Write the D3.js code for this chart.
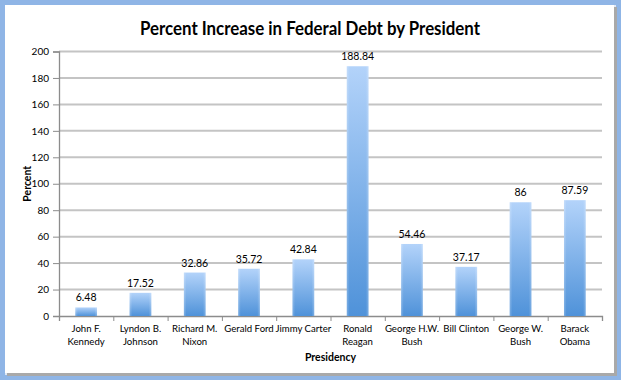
<!DOCTYPE html>
<html><head><meta charset="utf-8">
<script src="https://cdn.jsdelivr.net/npm/d3@7"></script>
<style>
html,body{margin:0;padding:0;background:#ffffff;}
svg{display:block;font-family:Lato,"Open Sans",sans-serif;}
</style></head>
<body>
<script>
const presidents = [["John F.","Kennedy"],["Lyndon B.","Johnson"],["Richard M.","Nixon"],["Gerald Ford"],["Jimmy Carter"],["Ronald","Reagan"],["George H.W.","Bush"],["Bill Clinton"],["George W.","Bush"],["Barack","Obama"]];
const percentIncrease = [6.48,17.52,32.86,35.72,42.84,188.84,54.46,37.17,86,87.59];
const yTicks = [0,20,40,60,80,100,120,140,160,180,200];
const titleText = "Percent Increase in Federal Debt by President";
const xTitle = "Presidency";
const yTitle = "Percent";

(function(){
const W=621,H=380;
const svg=d3.select("body").append("svg").attr("width",W).attr("height",H);
const defs=svg.append("defs");
const grad=defs.append("linearGradient").attr("id","barGrad").attr("x1",0).attr("y1",0).attr("x2",0).attr("y2",1);
grad.append("stop").attr("offset","0%").attr("stop-color","#b3d3fa");
grad.append("stop").attr("offset","100%").attr("stop-color","#4f92d9");
const hgrad=defs.append("linearGradient").attr("id","edgeGrad").attr("x1",0).attr("y1",0).attr("x2",1).attr("y2",0);
hgrad.append("stop").attr("offset","0%").attr("stop-color","#fff").attr("stop-opacity",0.25);
hgrad.append("stop").attr("offset","12%").attr("stop-color","#fff").attr("stop-opacity",0);
hgrad.append("stop").attr("offset","88%").attr("stop-color","#fff").attr("stop-opacity",0);
hgrad.append("stop").attr("offset","100%").attr("stop-color","#fff").attr("stop-opacity",0.25);

// frame (spreadsheet selection look)
svg.append("rect").attr("x",0).attr("y",0).attr("width",W).attr("height",H).attr("fill","#dfe8f5");
svg.append("rect").attr("x",0).attr("y",0).attr("width",W).attr("height",H).attr("fill","none").attr("stroke","#8fb5e6").attr("stroke-width",10);
svg.append("rect").attr("x",7).attr("y",7).attr("width",610).attr("height",369).attr("fill","#a9a9a9");
svg.append("rect").attr("x",5).attr("y",5).attr("width",609).attr("height",368).attr("fill","#ffffff");

const pl=59,pr=602,pt=51.5,pb=316;
const y=d3.scaleLinear().domain([0,200]).range([pb,pt]);

// gridlines
svg.append("g").selectAll("line").data(yTicks.filter(d=>d>0)).join("line")
 .attr("x1",pl).attr("x2",pr).attr("y1",d=>y(d)).attr("y2",d=>y(d))
 .attr("stroke","#c4c4c4").attr("stroke-width",2);

// y axis
const ya=svg.append("g").attr("transform",`translate(${pl},0)`)
 .call(d3.axisLeft(y).tickValues(yTicks).tickSize(6).tickPadding(4).tickFormat(d3.format("d")));
ya.select(".domain").attr("stroke","#8c8c8c").attr("stroke-width",1.3);
ya.selectAll(".tick line").attr("stroke","#8c8c8c");
ya.selectAll("text").attr("font-size",10).attr("fill","#000").attr("font-family","Lato,'Open Sans',sans-serif");

// x axis line and boundary ticks
const xs=d3.scaleLinear().domain([0,presidents.length]).range([pl,pr]);
const xa=svg.append("g").attr("transform",`translate(0,${pb})`)
 .call(d3.axisBottom(xs).tickValues(d3.range(presidents.length+1)).tickSize(5).tickFormat(""));
xa.select(".domain").attr("stroke","#8c8c8c").attr("stroke-width",1.3);
xa.selectAll(".tick line").attr("stroke","#8c8c8c");

const cx=i=>xs(i+0.5);
const bw=(pr-pl)/presidents.length/2.5;

// bars
const bars=svg.append("g").selectAll("g").data(percentIncrease).join("g");
bars.append("rect").attr("x",(d,i)=>cx(i)-bw/2).attr("width",bw)
 .attr("y",d=>y(d)).attr("height",d=>pb-y(d)).attr("fill","url(#barGrad)");
bars.append("rect").attr("x",(d,i)=>cx(i)-bw/2).attr("width",bw)
 .attr("y",d=>y(d)).attr("height",d=>pb-y(d)).attr("fill","url(#edgeGrad)");

// data labels
svg.append("g").selectAll("text").data(percentIncrease).join("text")
 .attr("x",(d,i)=>cx(i)).attr("y",d=>y(d)-6).attr("text-anchor","middle")
 .attr("font-size",10.5).attr("fill","#000").text(d=>d);

// category labels
const cl=svg.append("g").selectAll("text").data(presidents).join("text")
 .attr("x",(d,i)=>cx(i)).attr("y",332).attr("text-anchor","middle").attr("font-size",9.6).attr("fill","#000");
cl.selectAll("tspan").data(d=>d).join("tspan").attr("x",function(){return this.parentNode.getAttribute("x");})
 .attr("dy",(d,i)=>i?12.5:0).text(d=>d);

// titles
svg.append("text").attr("x",310).attr("y",35).attr("text-anchor","middle").attr("font-size",19)
 .attr("font-weight","bold").attr("fill","#000").attr("textLength",340).attr("lengthAdjust","spacingAndGlyphs").text(titleText);
svg.append("text").attr("x",(pl+pr)/2).attr("y",361).attr("text-anchor","middle").attr("font-size",10.5)
 .attr("font-weight","bold").attr("fill","#000").text(xTitle);
svg.append("text").attr("transform",`translate(31,${(pt+pb)/2}) rotate(-90)`).attr("text-anchor","middle")
 .attr("font-size",10.5).attr("font-weight","bold").attr("fill","#000").text(yTitle);
})();
</script>
</body></html>
